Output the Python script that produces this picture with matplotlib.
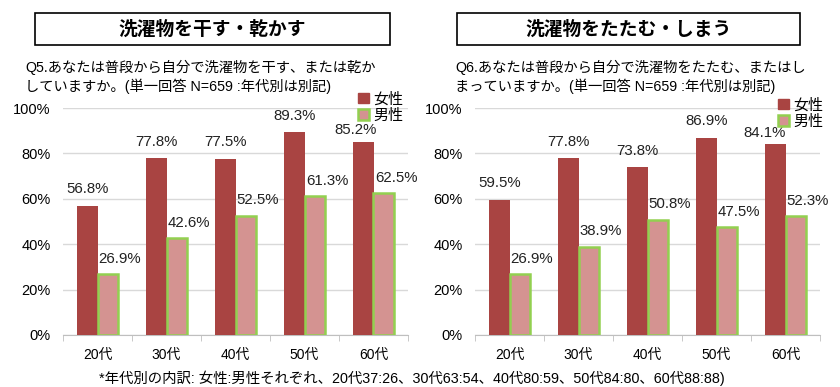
import matplotlib
matplotlib.use("Agg")
import matplotlib.pyplot as plt
from matplotlib.patches import Patch, Rectangle
import numpy as np

plt.rcParams['font.family'] = ['Liberation Sans', 'Noto Sans CJK JP', 'DejaVu Sans']

categories = ["20代", "30代", "40代", "50代", "60代"]
dry_female = [56.8, 77.8, 77.5, 89.3, 85.2]
dry_male = [26.9, 42.6, 52.5, 61.3, 62.5]
fold_female = [59.5, 77.8, 73.8, 86.9, 84.1]
fold_male = [26.9, 38.9, 50.8, 47.5, 52.3]
yticks = [0, 20, 40, 60, 80, 100]
ytick_labels = ["0%", "20%", "40%", "60%", "80%", "100%"]
legend_labels = ["女性", "男性"]

title_left = "洗濯物を干す・乾かす"
title_right = "洗濯物をたたむ・しまう"
q_left = "Q5.あなたは普段から自分で洗濯物を干す、または乾か\nしていますか。(単一回答 N=659 :年代別は別記)"
q_right = "Q6.あなたは普段から自分で洗濯物をたたむ、またはし\nまっていますか。(単一回答 N=659 :年代別は別記)"
footnote = "*年代別の内訳: 女性:男性それぞれ、20代37:26、30代63:54、40代80:59、50代84:80、60代88:88)"

F_COLOR = "#A94442"
M_FILL = "#D49391"
M_EDGE = "#92D050"
GRID = "#D9D9D9"

W, H = 840, 387
fig = plt.figure(figsize=(W/100, H/100), dpi=100)

def px_axes(x0, y0, x1, y1):
    return fig.add_axes([x0/W, 1 - y1/H, (x1-x0)/W, (y1-y0)/H])

def draw(ax, fem, mal, last_shift):
    x = np.arange(len(categories))
    bw = 0.29
    ax.bar(x - bw/2, fem, bw, color=F_COLOR, zorder=3)
    ax.bar(x + bw/2, mal, bw, color=M_FILL, edgecolor=M_EDGE, linewidth=1.8, zorder=3)
    n = len(categories)
    for i, (xi, v) in enumerate(zip(x, fem)):
        off = last_shift if i == n - 1 else (0, 7)
        ax.annotate(f"{v:.1f}%", (xi - bw/2, v), xytext=off, textcoords="offset points",
                    ha="center", va="bottom", fontsize=10.8, color="#222222")
    for xi, v in zip(x, mal):
        ax.annotate(f"{v:.1f}%", (xi + bw/2, v), xytext=(9, 6), textcoords="offset points",
                    ha="center", va="bottom", fontsize=10.8, color="#222222")
    ax.set_xlim(-0.5, n - 0.5)
    ax.set_ylim(0, 100)
    ax.set_yticks(yticks)
    ax.set_yticklabels(ytick_labels, fontsize=10.5)
    ax.set_xticks(x)
    ax.set_xticklabels(categories, fontsize=10)
    ax.set_xticks(np.arange(-0.5, n), minor=True)
    ax.tick_params(axis='x', which='major', length=0, pad=9)
    ax.tick_params(axis='x', which='minor', length=4, color="#BFBFBF")
    ax.tick_params(axis='y', length=0, pad=9)
    ax.grid(axis='y', color=GRID, linewidth=1, zorder=0)
    for s in ["top", "right", "left"]:
        ax.spines[s].set_visible(False)
    ax.spines["bottom"].set_color("#BFBFBF")
    ax.set_axisbelow(True)

ax1 = px_axes(63, 108, 408, 335)
draw(ax1, dry_female, dry_male, (-6, 3))
ax2 = px_axes(475, 108, 820, 335)
draw(ax2, fold_female, fold_male, (-8, 3))

# title boxes
for (x0, x1, t) in [(35, 390, title_left), (457, 800, title_right)]:
    fig.patches.append(Rectangle((x0/W, 1 - 45/H), (x1-x0)/W, 32/H, transform=fig.transFigure,
                                 facecolor="white", edgecolor="black", linewidth=1.2))
    fig.text((x0+x1)/2/W, 1 - 29/H, t, ha="center", va="center", fontsize=13.5, fontweight="bold",
             family=['Noto Sans CJK JP', 'DejaVu Sans'])

fig.text(25/W, 1 - 77/H, q_left, ha="left", va="center", fontsize=10.3, linespacing=1.3,
         family=['Liberation Sans', 'Noto Sans CJK JP'])
fig.text(455/W, 1 - 77/H, q_right, ha="left", va="center", fontsize=10.3, linespacing=1.3,
         family=['Liberation Sans', 'Noto Sans CJK JP'])

handles = [Patch(facecolor=F_COLOR, edgecolor=F_COLOR),
           Patch(facecolor=M_FILL, edgecolor=M_EDGE, linewidth=1.8)]
for (lx, ly) in [(358/W, 1 - 92/H), (778/W, 1 - 98/H)]:
    fig.legend(handles, legend_labels, loc="upper left", bbox_to_anchor=(lx, ly),
               frameon=False, fontsize=10.8, handlelength=0.7, handleheight=0.7,
               handletextpad=0.3, labelspacing=0.15, borderpad=0, borderaxespad=0)

fig.text(412/W, 1 - 378/H, footnote, ha="center", va="center", fontsize=10.4,
         family=['Liberation Sans', 'Noto Sans CJK JP'])

fig.savefig("out.png", dpi=100)
